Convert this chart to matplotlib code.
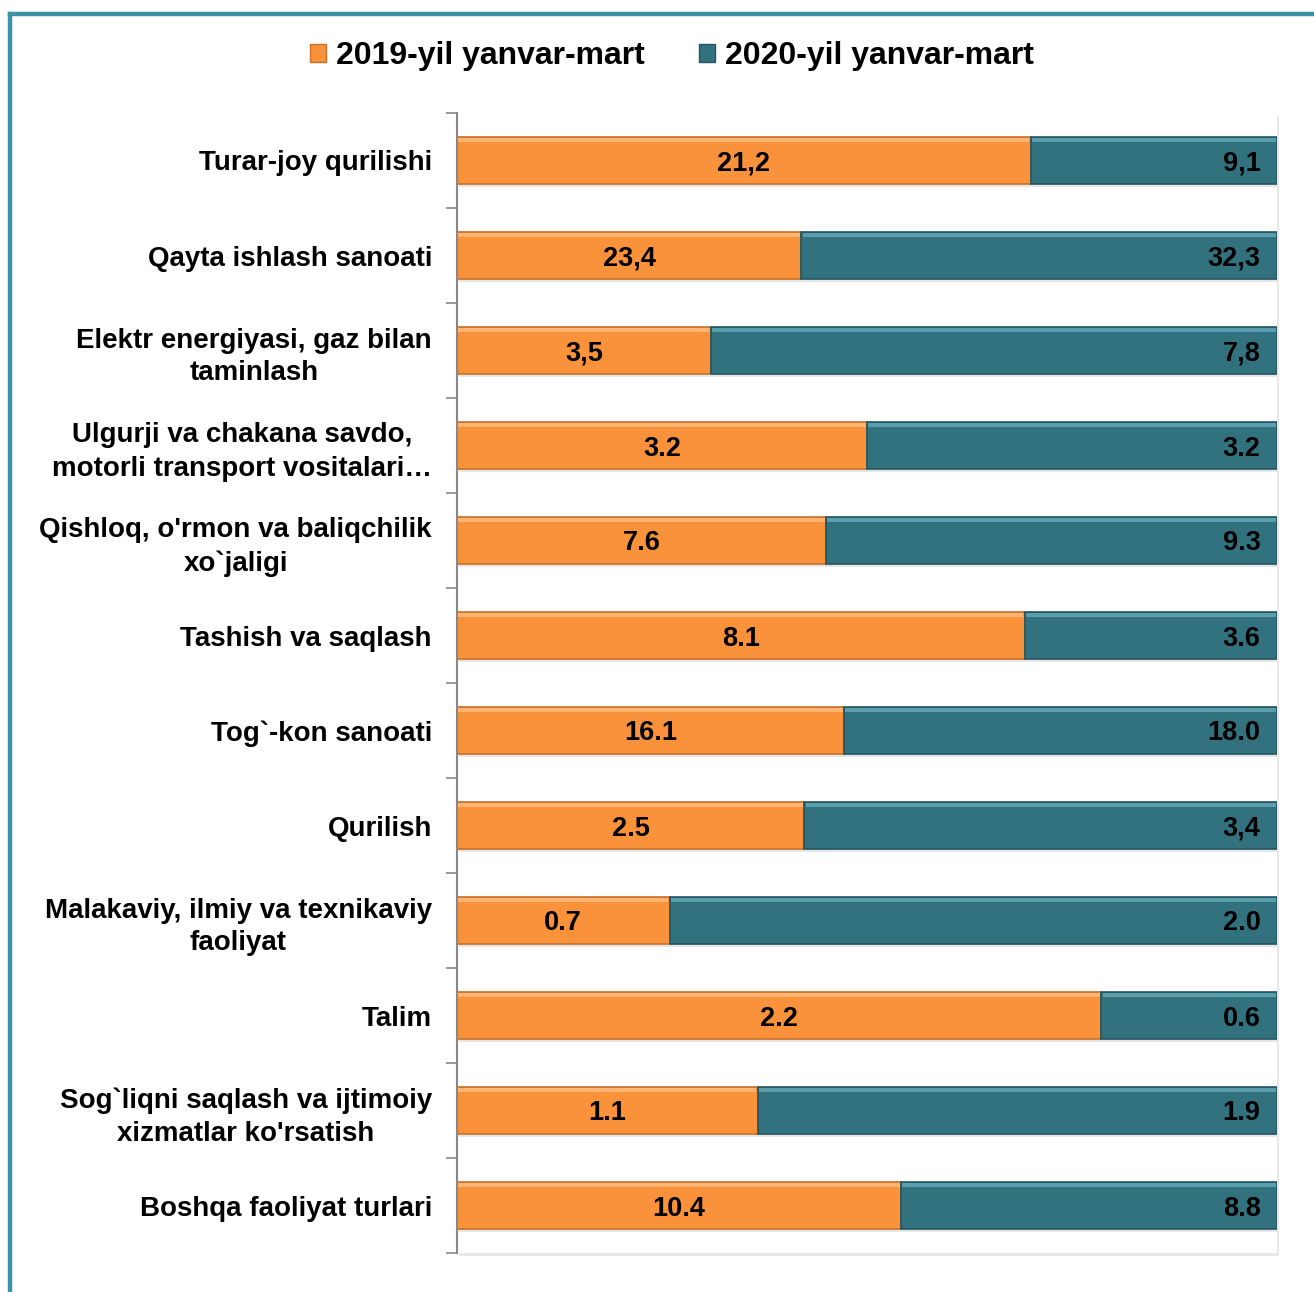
import matplotlib
matplotlib.use("Agg")
import matplotlib.pyplot as plt
from matplotlib.lines import Line2D
from matplotlib.patches import Rectangle
import numpy as np

plt.rcParams['font.family'] = ['Liberation Sans', 'DejaVu Sans']

categories = [
    "Turar-joy qurilishi",
    "Qayta ishlash sanoati",
    "Elektr energiyasi, gaz bilan\ntaminlash",
    "Ulgurji va chakana savdo,\nmotorli transport vositalari…",
    "Qishloq, o'rmon va baliqchilik\nxo`jaligi",
    "Tashish va saqlash",
    "Tog`-kon sanoati",
    "Qurilish",
    "Malakaviy, ilmiy va texnikaviy\nfaoliyat",
    "Talim",
    "Sog`liqni saqlash va ijtimoiy\nxizmatlar ko'rsatish",
    "Boshqa faoliyat turlari",
]
v2019 = [21.2, 23.4, 3.5, 3.2, 7.6, 8.1, 16.1, 2.5, 0.7, 2.2, 1.1, 10.4]
v2020 = [9.1, 32.3, 7.8, 3.2, 9.3, 3.6, 18.0, 3.4, 2.0, 0.6, 1.9, 8.8]
lab2019 = ["21,2", "23,4", "3,5", "3.2", "7.6", "8.1", "16.1", "2.5", "0.7", "2.2", "1.1", "10.4"]
lab2020 = ["9,1", "32,3", "7,8", "3.2", "9.3", "3.6", "18.0", "3,4", "2.0", "0.6", "1.9", "8.8"]
series_names = ["2019-yil yanvar-mart", "2020-yil yanvar-mart"]

c_or = "#F9923A"
c_te = "#32727F"
c_or_edge = "#C8702A"
c_te_edge = "#245560"

fig = plt.figure(figsize=(13.14, 12.92), dpi=100)

# shadow of plot area (drawn behind the axes)
shadow = Rectangle((459/1314, 1-1256/1292), 820/1314, 1140/1292,
                   transform=fig.transFigure, facecolor="#E8E8E8",
                   edgecolor="none", zorder=-5)
fig.add_artist(shadow)

ax = fig.add_axes([457/1314, 1-1253/1292, 820/1314, 1140/1292])
ax.set_zorder(1)

a = np.array(v2019)
b = np.array(v2020)
tot = a + b
p1 = a / tot * 100
p2 = b / tot * 100
y = np.arange(len(categories))
h = 0.5

ax.set_facecolor("white")

# bar shadows
ax.barh(y + 0.03, p1 + p2, height=h, left=0.3, color="#C8C8C8", alpha=0.45, zorder=1, linewidth=0)
ax.barh(y, p1, height=h, color=c_or, edgecolor=c_or_edge, linewidth=1.2, zorder=2,
        label=series_names[0])
ax.barh(y, p2, height=h, left=p1, color=c_te, edgecolor=c_te_edge, linewidth=1.2, zorder=2,
        label=series_names[1])
# bevel highlights
ax.barh(y - h/2 + 0.035, p1 - 0.3, left=0.15, height=0.045, color="#FFB571", zorder=3, linewidth=0)
ax.barh(y - h/2 + 0.035, p2 - 0.3, left=p1 + 0.15, height=0.045, color="#5A9FAE", zorder=3, linewidth=0)

for i in range(len(categories)):
    ax.text(p1[i] / 2, y[i], lab2019[i], ha="center", va="center_baseline",
            fontsize=19.5, fontweight="bold", color="black", zorder=4)
    ax.text(98.0, y[i], lab2020[i], ha="right", va="center_baseline",
            fontsize=19.5, fontweight="bold", color="black", zorder=4)

ax.set_xlim(0, 100)
ax.set_ylim(len(categories) - 0.5, -0.5)
ax.set_yticks(y)
ax.set_yticklabels(categories, fontsize=20, fontweight="bold", linespacing=1.35)
ax.tick_params(axis="y", which="major", length=0, pad=18)
for t in ax.get_yticklabels():
    t.set_multialignment("center")
ax.set_yticks(np.arange(-0.5, len(categories) + 0.5, 1), minor=True)
ax.tick_params(axis="y", which="minor", length=8, color="#888888", width=1.2)
ax.set_xticks([])
for s in ["top", "right", "bottom"]:
    ax.spines[s].set_visible(False)
ax.spines["left"].set_color("#888888")
ax.spines["left"].set_linewidth(1.5)

leg = fig.legend(handles=[Rectangle((0, 0), 1, 1, facecolor=c_or, edgecolor=c_or_edge),
                          Rectangle((0, 0), 1, 1, facecolor=c_te, edgecolor=c_te_edge)],
                 labels=series_names, loc="center", bbox_to_anchor=(672/1314, 1-56/1292),
                 ncol=2, frameon=False,
                 handlelength=0.5, handleheight=0.5, handletextpad=0.3, columnspacing=1.7,
                 prop={"weight": "bold", "size": 23})

# frame lines
fig.add_artist(Line2D([10/1314, 1], [1-14/1292, 1-14/1292], transform=fig.transFigure,
                      color="#3A93A6", linewidth=3.2))
fig.add_artist(Line2D([10/1314, 10/1314], [0, 1-14/1292], transform=fig.transFigure,
                      color="#3A93A6", linewidth=3.2))

fig.savefig("out.png", dpi=100)
